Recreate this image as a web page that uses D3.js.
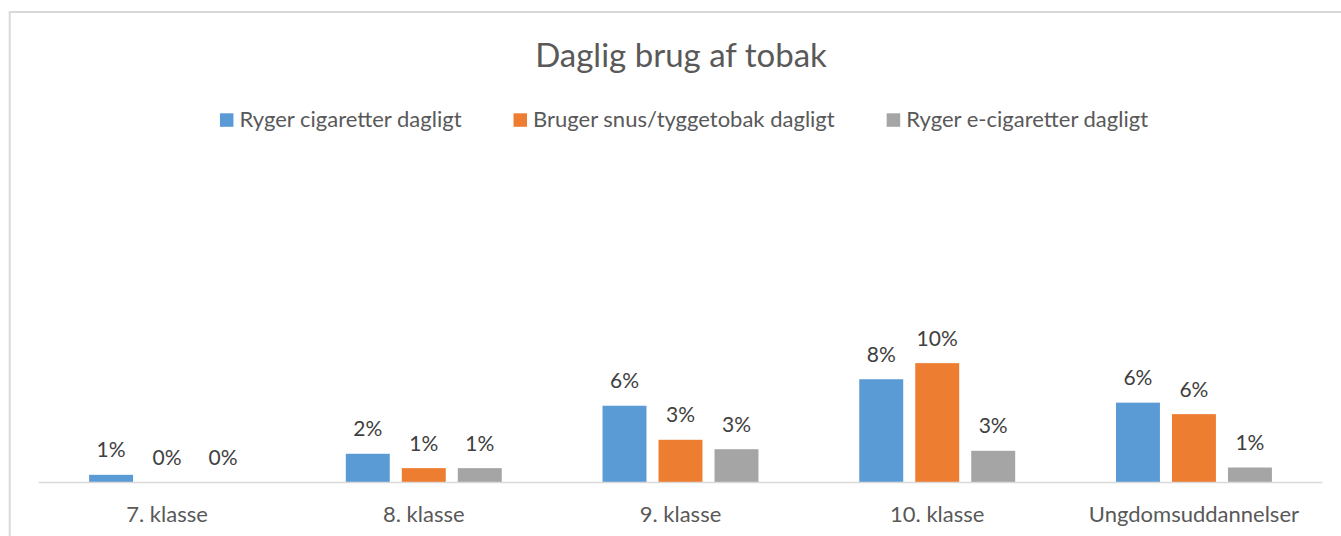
<!DOCTYPE html>
<html>
<head>
<meta charset="utf-8">
<script src="https://cdn.jsdelivr.net/npm/d3@7"></script>
<style>
  body { margin: 0; background: #fff; }
  text { font-family: Lato, "Open Sans", sans-serif; }
</style>
</head>
<body>
<div id="area"></div>
<script>
// data (percent)
var categories = ["7. klasse", "8. klasse", "9. klasse", "10. klasse", "Ungdomsuddannelser"];
var seriesNames = ["Ryger cigaretter dagligt", "Bruger snus/tyggetobak dagligt", "Ryger e-cigaretter dagligt"];
var cigaretter = [0.62, 2.32, 6.2, 8.34, 6.45];
var snus = [0, 1.16, 3.45, 9.64, 5.52];
var eCigaretter = [0, 1.16, 2.69, 2.56, 1.21];
var colors = ["#5b9bd5", "#ed7d31", "#a5a5a5"];

var width = 1341, height = 536;
var plotLeft = 38.7, plotRight = 1322.3, plotBottom = 482.5, plotTop = 173;

var rows = categories.map(function(c, i) {
  return { cat: c, values: [cigaretter[i], snus[i], eCigaretter[i]] };
});

var svg = d3.select("#area")
  .append("svg")
    .attr("width", width)
    .attr("height", height);

// chart frame
svg.append("rect")
  .attr("x", 9.7)
  .attr("y", 12)
  .attr("width", 1400)
  .attr("height", 600)
  .style("fill", "none")
  .style("stroke", "#d9d9d9")
  .style("stroke-width", 2);

svg.append("text")
  .attr("x", 681)
  .attr("y", 67)
  .attr("text-anchor", "middle")
  .style("font-size", "33px")
  .style("fill", "#595959")
  .text("Daglig brug af tobak");

var x0 = d3.scaleBand()
  .domain(categories)
  .range([plotLeft, plotRight]);

var x1 = d3.scaleBand()
  .domain(d3.range(seriesNames.length))
  .range([0, x0.bandwidth()])
  .paddingInner(0.215)
  .paddingOuter(0.9);

var y = d3.scaleLinear()
  .domain([0, 25])
  .range([plotBottom, plotTop]);

var groups = svg.selectAll(".grp")
  .data(rows)
  .enter()
  .append("g")
    .attr("class", "grp")
    .attr("transform", function(d) { return "translate(" + x0(d.cat) + ",0)"; });

var bars = groups.selectAll("g.bar")
  .data(function(d) { return d.values.map(function(v, i) { return { v: v, s: i }; }); })
  .enter()
  .append("g")
    .attr("class", "bar");

bars.append("rect")
  .attr("x", function(d) { return x1(d.s); })
  .attr("y", function(d) { return y(d.v); })
  .attr("width", x1.bandwidth())
  .attr("height", function(d) { return y(0) - y(d.v); })
  .style("fill", function(d) { return colors[d.s]; });

bars.append("text")
  .attr("x", function(d) { return x1(d.s) + x1.bandwidth() / 2; })
  .attr("y", function(d) { return y(d.v) - 17.5; })
  .attr("text-anchor", "middle")
  .style("font-size", "21px")
  .style("fill", "#404040")
  .text(function(d) { return d3.format(".0f")(d.v) + "%"; });

// category axis
var xAxis = svg.append("g")
  .attr("transform", "translate(0," + plotBottom + ")")
  .call(d3.axisBottom(x0).tickSize(0).tickPadding(0));
xAxis.select(".domain")
  .attr("d", "M" + plotLeft + ",0H" + plotRight)
  .style("stroke", "#d9d9d9")
  .style("stroke-width", 1.6);
xAxis.selectAll("text")
  .attr("y", 39)
  .attr("dy", null)
  .style("font-family", "Lato, 'Open Sans', sans-serif")
  .style("font-size", "22px")
  .style("fill", "#595959");

// legend
var legend = svg.append("g");
var items = legend.selectAll("g")
  .data(seriesNames)
  .enter()
  .append("g");
items.append("rect")
  .attr("width", 13.5)
  .attr("height", 13.5)
  .attr("y", 113.3)
  .style("fill", function(d, i) { return colors[i]; });
items.append("text")
  .attr("x", 19.5)
  .attr("y", 127)
  .style("font-size", "22px")
  .style("fill", "#595959")
  .text(function(d) { return d; });

var pos = 0;
items.each(function() {
  var g = d3.select(this);
  g.attr("transform", "translate(" + pos + ",0)");
  pos += 19.5 + g.select("text").node().getComputedTextLength() + 52;
});
var total = pos - 52;
legend.attr("transform", "translate(" + (684 - total / 2) + ",0)");
</script>
</body>
</html>
